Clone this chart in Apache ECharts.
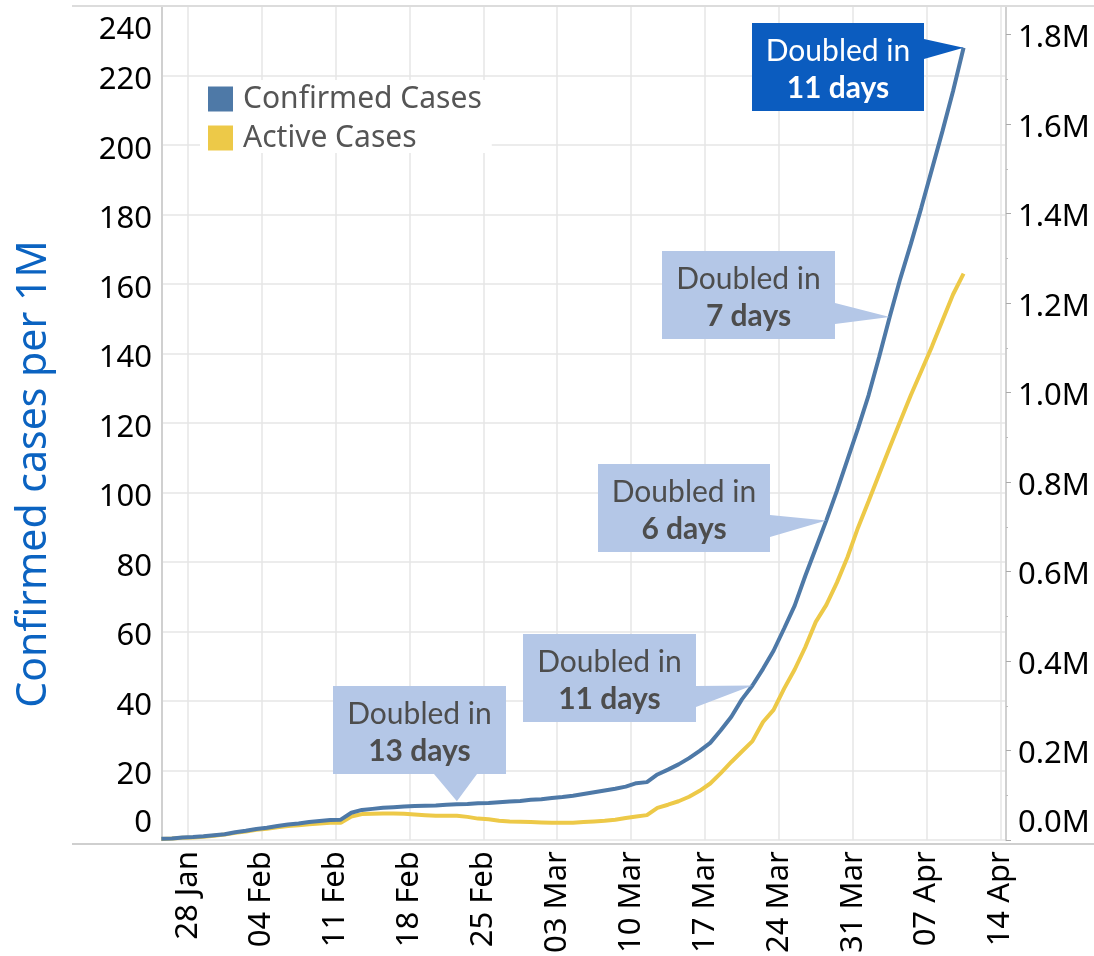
<!DOCTYPE html>
<html><head><meta charset="utf-8">
<script src="https://cdn.jsdelivr.net/npm/echarts@6/dist/echarts.min.js"></script>
<style>html,body{margin:0;padding:0;background:#fff}#c{width:1094px;height:956px}</style>
</head><body><div id="c"></div>
<script>
// ---- data ----
const dates = [
 '2020-01-26','2020-01-27','2020-01-28','2020-01-29','2020-01-30','2020-01-31',
 '2020-02-01','2020-02-02','2020-02-03','2020-02-04','2020-02-05','2020-02-06','2020-02-07','2020-02-08','2020-02-09','2020-02-10',
 '2020-02-11','2020-02-12','2020-02-13','2020-02-14','2020-02-15','2020-02-16','2020-02-17','2020-02-18','2020-02-19','2020-02-20',
 '2020-02-21','2020-02-22','2020-02-23','2020-02-24','2020-02-25','2020-02-26','2020-02-27','2020-02-28','2020-02-29',
 '2020-03-01','2020-03-02','2020-03-03','2020-03-04','2020-03-05','2020-03-06','2020-03-07','2020-03-08','2020-03-09','2020-03-10',
 '2020-03-11','2020-03-12','2020-03-13','2020-03-14','2020-03-15','2020-03-16','2020-03-17','2020-03-18','2020-03-19','2020-03-20',
 '2020-03-21','2020-03-22','2020-03-23','2020-03-24','2020-03-25','2020-03-26','2020-03-27','2020-03-28','2020-03-29','2020-03-30','2020-03-31',
 '2020-04-01','2020-04-02','2020-04-03','2020-04-04','2020-04-05','2020-04-06','2020-04-07','2020-04-08','2020-04-09','2020-04-10','2020-04-11'
];
const confirmedPerM = [
 0.4,0.5,0.8,0.9,1.1,1.4,
 1.7,2.3,2.7,3.2,3.6,4.1,4.5,4.8,5.2,5.5,
 5.8,5.9,7.9,8.7,9.0,9.3,9.5,9.7,9.8,9.9,
 10.0,10.2,10.3,10.4,10.6,10.7,10.9,11.1,11.3,
 11.6,11.8,12.1,12.4,12.8,13.3,13.8,14.3,14.8,15.4,
 16.4,16.7,18.9,20.3,21.8,23.6,25.7,28.0,31.6,35.5,
 40.5,44.5,49.3,54.5,60.9,67.5,76.0,84.0,92.0,100.5,109.5,
 118.5,128.0,139.0,150.5,161.5,171.5,182.0,193.0,204.0,215.5,228.0
];
const activePerM = [
 0.35,0.45,0.7,0.8,1.0,1.3,
 1.6,2.1,2.5,3.0,3.3,3.7,4.1,4.3,4.6,4.8,
 5.0,5.0,6.8,7.5,7.6,7.7,7.7,7.6,7.4,7.2,
 7.0,7.0,7.0,6.7,6.2,6.0,5.6,5.4,5.3,
 5.2,5.1,5.0,5.0,5.0,5.2,5.4,5.6,5.9,6.4,
 6.8,7.2,9.3,10.2,11.2,12.5,14.2,16.3,19.3,22.5,
 25.5,28.5,34.0,37.5,43.6,49.1,55.5,62.8,67.7,74.1,81.4,
 89.9,97.5,105.3,113.0,120.5,128.0,135.0,142.0,149.5,157.0,163.0
];
const tickDates = ['2020-01-28','2020-02-04','2020-02-11','2020-02-18','2020-02-25','2020-03-03',
 '2020-03-10','2020-03-17','2020-03-24','2020-03-31','2020-04-07','2020-04-14'];
const monthNames = ['Jan','Feb','Mar','Apr','May','Jun','Jul','Aug','Sep','Oct','Nov','Dec'];
const seriesNames = ['Confirmed Cases','Active Cases'];
const annotationDates = ['2020-02-23','2020-03-22','2020-03-29','2020-04-04','2020-04-11'];
const annotationDays = ['13 days','11 days','6 days','7 days','11 days'];
const annotationLead = 'Doubled in';
const yTitle = 'Confirmed cases per 1M';

// ---- helpers: dates -> day number (days since 2020-01-01, UTC) ----
const DAY = 86400000;
const EPOCH = Date.UTC(2020,0,1);
function toDay(s){const p=s.split('-').map(Number);return (Date.UTC(p[0],p[1]-1,p[2])-EPOCH)/DAY;}
const tickVals = tickDates.map(d => toDay(d) + 0.5);
function fmtDay(v){const d=new Date(EPOCH+Math.floor(v)*DAY);const dd=String(d.getUTCDate()).padStart(2,'0');return dd+' '+monthNames[d.getUTCMonth()];}
const FONT = 'Noto Sans';
const lblStyle = {fontSize:31, fontFamily:FONT, color:'#000'};

const chart = echarts.init(document.getElementById('c'), null, {renderer:'canvas'});
const option = {
  animation:false,
  backgroundColor:'#fff',
  grid:{left:162, right:88, top:6, bottom:112, containLabel:false},
  legend:{orient:'vertical', left:200, top:80, padding:[4,10,0,8], backgroundColor:'#fff',
    itemWidth:25, itemHeight:25, itemGap:9, icon:'rect', selectedMode:false,
    data:seriesNames, textStyle:{fontSize:30, fontFamily:FONT, color:'#555', lineHeight:25, padding:[0,0,0,5]}},
  xAxis:{type:'value',
    min:toDay('2020-01-26')+0.0625, max:toDay('2020-04-15')+0.02,
    axisLine:{show:false},
    axisTick:{show:false, customValues:tickVals},
    axisLabel:{customValues:tickVals, rotate:90, margin:11, formatter:fmtDay,
      fontSize:31, fontFamily:FONT, color:'#000', hideOverlap:false, showMinLabel:true, showMaxLabel:true},
    splitLine:{show:true, lineStyle:{color:'#e6e6e6', width:1.5}}
  },
  yAxis:[
    {type:'value', position:'left', min:0, max:240, interval:20,
     axisLine:{show:true, lineStyle:{color:'#d0d0d0', width:2}},
     axisTick:{show:false},
     splitLine:{show:true, lineStyle:{color:'#e6e6e6', width:1.5}},
     axisLabel:{margin:10, hideOverlap:false,
       formatter:function(v){ if(v===0) return '{lo|0}'; if(v===240) return '{hi|240}'; return '{n|'+v+'}'; },
       rich:{n:Object.assign({padding:[10,0,0,0]},lblStyle), lo:Object.assign({padding:[0,0,34,0]},lblStyle), hi:Object.assign({padding:[48,0,0,0]},lblStyle)}}
    },
    {type:'value', position:'right', min:0, max:1864000, interval:200000,
     axisLine:{show:true, lineStyle:{color:'#d0d0d0', width:2}},
     axisTick:{show:true, length:5, lineStyle:{color:'#aaa', width:1}},
     minorTick:{show:true, splitNumber:2, length:2, lineStyle:{color:'#bbb', width:1}},
     splitLine:{show:false},
     axisLabel:{margin:12, showMaxLabel:false, hideOverlap:false,
       formatter:function(v){ const s=(v/1e6).toFixed(1)+'M'; return v===0 ? '{lo|'+s+'}' : '{n|'+s+'}'; },
       rich:{n:Object.assign({padding:[8,0,0,0]},lblStyle), lo:Object.assign({padding:[0,0,34,0]},lblStyle)}}
    }
  ],
  series:[
    {name:seriesNames[0], type:'line', yAxisIndex:0, showSymbol:false, symbol:'none', z:4,
     color:'#4e79a7', lineStyle:{width:4, color:'#4e79a7'},
     data:dates.map((d,i)=>[toDay(d), confirmedPerM[i]])},
    {name:seriesNames[1], type:'line', yAxisIndex:0, showSymbol:false, symbol:'none', z:3,
     color:'#edc948', lineStyle:{width:4, color:'#edc948'},
     data:dates.map((d,i)=>[toDay(d), activePerM[i]])}
  ]
};
chart.setOption(option);

// ---- annotations (layout of callout boxes) ----
const boxLayout = [
  {x:333, y:686, w:173, h:88, side:'bottom', b1:101, b2:144, dark:false},
  {x:523, y:634, w:173, h:88, side:'right', b1:52, b2:73, dark:false},
  {x:598, y:464, w:172, h:88, side:'right', b1:51, b2:73, dark:false},
  {x:662, y:251, w:173, h:88, side:'right', b1:52, b2:73, dark:false},
  {x:752, y:23,  w:172, h:88, side:'right', b1:16, b2:36, dark:true}
];
const graphics = [
  {type:'line', shape:{x1:72, y1:6, x2:1094, y2:6}, style:{stroke:'#dcdcdc', lineWidth:2}, z:5},
  {type:'line', shape:{x1:72, y1:844, x2:1094, y2:844}, style:{stroke:'#cfcfcf', lineWidth:2}, z:5},
  {type:'text', x:34, y:474, rotation:Math.PI/2, z:5,
   style:{text:yTitle, font:'41px "Noto Sans"', fill:'#0b63c1', align:'center', verticalAlign:'middle'}}
];
annotationDates.forEach((d,i)=>{
  const idx = dates.indexOf(d);
  const tip = chart.convertToPixel({xAxisIndex:0, yAxisIndex:0}, [toDay(d), confirmedPerM[idx]]);
  const b = boxLayout[i];
  let pts;
  if (b.side==='bottom') {
    pts = [[b.x,b.y],[b.x+b.w,b.y],[b.x+b.w,b.y+b.h],[b.x+b.b2,b.y+b.h],[tip[0],tip[1]-3],[b.x+b.b1,b.y+b.h],[b.x,b.y+b.h]];
  } else {
    pts = [[b.x,b.y],[b.x+b.w,b.y],[b.x+b.w,b.y+b.b1],[tip[0],tip[1]],[b.x+b.w,b.y+b.b2],[b.x+b.w,b.y+b.h],[b.x,b.y+b.h]];
  }
  const fill = b.dark ? '#0b5cbf' : '#b4c7e7';
  const tc = b.dark ? '#ffffff' : '#4d4d4d';
  graphics.push({type:'polygon', shape:{points:pts}, style:{fill:fill}, z:10});
  graphics.push({type:'text', x:b.x+b.w/2, y:b.y+b.h/2+3, z:11,
    style:{text:'{a|'+annotationLead+'}\n{b|'+annotationDays[i]+'}', align:'center', verticalAlign:'middle',
      rich:{a:{font:'30px Lato', fill:tc, lineHeight:37}, b:{font:'bold 30px Lato', fill:tc, lineHeight:37}}}});
});
chart.setOption({graphic:graphics});
</script>
</body></html>
